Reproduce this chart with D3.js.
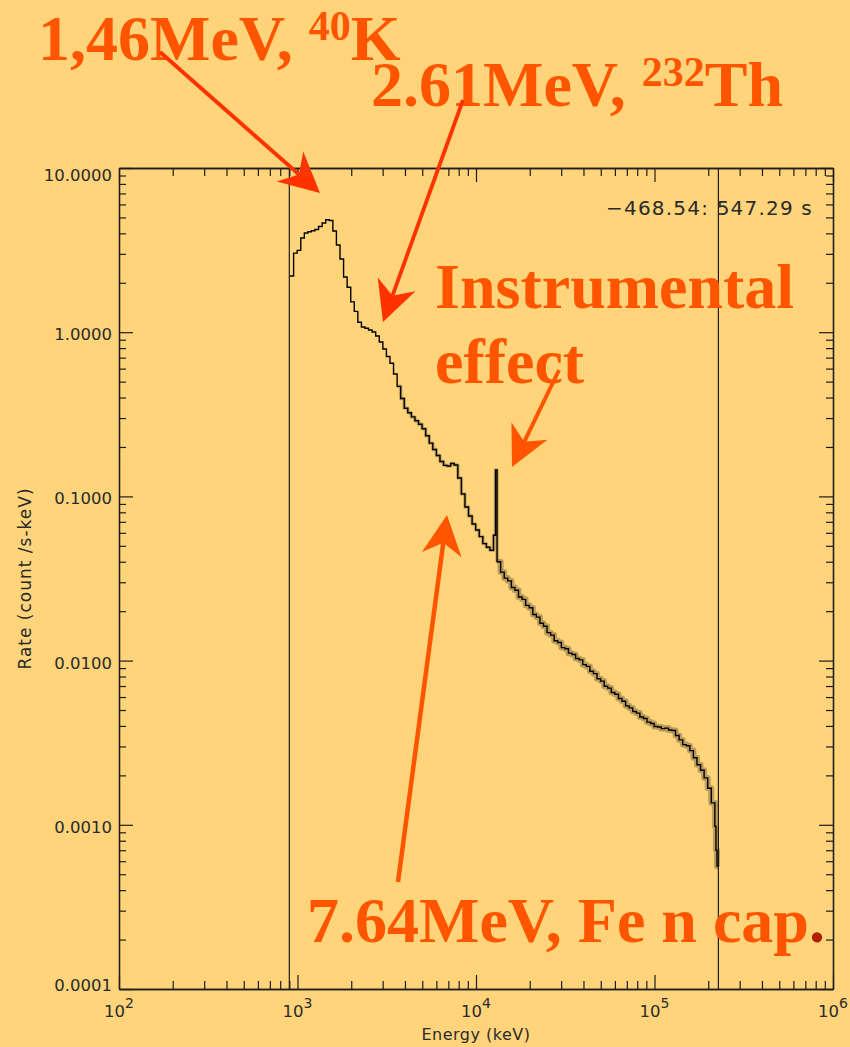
<!DOCTYPE html>
<html>
<head>
<meta charset="utf-8">
<script src="https://cdn.jsdelivr.net/npm/d3@7"></script>
<style>
  html, body { margin: 0; padding: 0; background: #FFD47A; }
  svg { display: block; }
</style>
</head>
<body>
<svg id="chart" width="850" height="1047"></svg>
<script>
// Background spectrum: histogram bin edges (keV) and count rate per bin (count /s-keV)
const binEdgesKeV = [
  908, 951, 996, 1043, 1092, 1143, 1197, 1253, 1312, 1374,
  1439, 1507, 1578, 1652, 1730, 1812, 1897, 1987, 2080, 2178,
  2281, 2388, 2501, 2619, 2742, 2871, 3007, 3148, 3297, 3452,
  3615, 3785, 3964, 4150, 4346, 4551, 4765, 4990, 5225, 5471,
  5729, 5999, 6282, 6578, 6888, 7213, 7552, 7908, 8281, 8671,
  9080, 9510, 9956, 10430, 10920, 11430, 11970, 12530, 12860, 13120,
  13740, 14390, 15070, 15780, 16520, 17300, 18120, 18970, 19870, 20800,
  21780, 22810, 23880, 25010, 26190, 27420, 28710, 30070, 31480, 32970,
  34520, 36150, 37850, 39640, 41500, 43460, 45510, 47650, 49900, 52250,
  54710, 57290, 59990, 62820, 65780, 68880, 72130, 75520, 79080, 82810,
  86710, 90800, 95100, 99560, 104300, 109200, 114300, 119700, 125300, 131200,
  137400, 143900, 150700, 157800, 165200, 173000, 181200, 189700, 198700, 208000,
  217800, 221000, 223900, 228000
];
const rateCounts = [
  2.20, 3.03, 3.15, 3.75, 4.02, 4.09, 4.15, 4.22, 4.40, 4.62,
  4.84, 4.79, 4.13, 3.40, 2.79, 2.17, 1.88, 1.53, 1.34, 1.15,
  1.076, 1.056, 1.031, 1.003, 0.948, 0.872, 0.790, 0.711, 0.647, 0.556,
  0.468, 0.395, 0.344, 0.323, 0.305, 0.289, 0.275, 0.258, 0.234, 0.211,
  0.193, 0.1775, 0.163, 0.1546, 0.1532, 0.1586, 0.1553, 0.1294, 0.1034, 0.0862,
  0.0760, 0.0679, 0.0624, 0.0569, 0.0516, 0.0490, 0.0470, 0.058, 0.145, 0.040,
  0.0346, 0.0318, 0.0306, 0.0279, 0.0268, 0.0244, 0.0236, 0.0217, 0.0210, 0.0191,
  0.0184, 0.0169, 0.0162, 0.0148, 0.0143, 0.0132, 0.0129, 0.0120, 0.0118, 0.01110,
  0.01090, 0.01030, 0.01010, 0.00945, 0.00922, 0.00862, 0.00833, 0.00776, 0.00750, 0.00698,
  0.00680, 0.00640, 0.00624, 0.00588, 0.00565, 0.00530, 0.00515, 0.00490, 0.00479, 0.00453,
  0.00444, 0.00422, 0.00414, 0.00397, 0.00394, 0.00385, 0.00388, 0.00378, 0.00375, 0.00350,
  0.00329, 0.00308, 0.00303, 0.00283, 0.00256, 0.00232, 0.00215, 0.00193, 0.00167, 0.00136,
  0.00098, 0.00070, 0.00056
];

// Axis ticks and labels
const xMajorTicks = [1e2, 1e3, 1e4, 1e5, 1e6];
const xTickExponents = ["2", "3", "4", "5", "6"];
const yMajorTicks = [10, 1, 0.1, 0.01, 0.001, 0.0001];
const yTickLabels = ["10.0000", "1.0000", "0.1000", "0.0100", "0.0010", "0.0001"];

// Energy selection interval (keV) and accumulation time label
const intervalMarkersKeV = [900, 228000];
const timeRangeLabel = "\u2212468.54: 547.29 s";

const svg = d3.select("#chart");
const W = 850, H = 1047;
const plot = { left: 119, right: 833, top: 168, bottom: 989 };

svg.append("rect").attr("width", W).attr("height", H).attr("fill", "#FFD47A");

const x = d3.scaleLog().domain([1e2, 1e6]).range([plot.left, plot.right]);
const y = d3.scaleLog().domain([1e-4, 10]).range([plot.bottom, plot.top]);

function minorTicks(lo, hi) {
  const out = [];
  for (let e = lo; e < hi; e++) {
    for (let m = 2; m <= 9; m++) out.push(m * Math.pow(10, e));
  }
  return out;
}
const xMinor = minorTicks(2, 6);
const yMinor = minorTicks(-4, 1);

const ink = "#1c1c1c";
function styleAxis(g) {
  g.select(".domain").attr("stroke", ink).attr("stroke-width", 1.3);
  g.selectAll(".tick line").attr("stroke", ink).attr("stroke-width", 1.2);
  g.selectAll(".tick text").remove();
}

// Interval marker lines
svg.append("g").selectAll("line").data(intervalMarkersKeV).join("line")
  .attr("x1", d => x(d)).attr("x2", d => x(d))
  .attr("y1", plot.top).attr("y2", plot.bottom)
  .attr("stroke", ink).attr("stroke-width", 1.2);

// Frame with major and minor ticks on all four sides
const axes = svg.append("g");
[[xMajorTicks, 14], [xMinor, 8]].forEach(([vals, len]) => {
  axes.append("g").attr("transform", `translate(0,${plot.bottom})`)
    .call(d3.axisBottom(x).tickValues(vals).tickSize(-len).tickSizeOuter(0)).call(styleAxis);
  axes.append("g").attr("transform", `translate(0,${plot.top})`)
    .call(d3.axisTop(x).tickValues(vals).tickSize(-len).tickSizeOuter(0)).call(styleAxis);
});
[[yMajorTicks, 14], [yMinor, 7]].forEach(([vals, len]) => {
  axes.append("g").attr("transform", `translate(${plot.left},0)`)
    .call(d3.axisLeft(y).tickValues(vals).tickSize(-len).tickSizeOuter(0)).call(styleAxis);
  axes.append("g").attr("transform", `translate(${plot.right},0)`)
    .call(d3.axisRight(y).tickValues(vals).tickSize(-len).tickSizeOuter(0)).call(styleAxis);
});

// Tick labels
const labelFont = "'DejaVu Sans', 'Liberation Sans', sans-serif";
svg.append("g").selectAll("text").data(yMajorTicks).join("text")
  .attr("x", plot.left - 7)
  .attr("y", d => Math.min(Math.max(y(d) + 8, plot.top + 13), plot.bottom + 2))
  .attr("text-anchor", "end")
  .attr("font-family", labelFont).attr("font-size", 16.5).attr("fill", "#2a2a2a")
  .text((d, i) => yTickLabels[i]);

const xl = svg.append("g").selectAll("text").data(xMajorTicks).join("text")
  .attr("x", d => x(d)).attr("y", plot.bottom + 28)
  .attr("text-anchor", "middle")
  .attr("font-family", labelFont).attr("font-size", 16.5).attr("fill", "#2a2a2a");
xl.append("tspan").text("10");
xl.append("tspan").attr("dy", -9).attr("font-size", 14).text((d, i) => xTickExponents[i]);

// Axis titles
svg.append("text")
  .attr("x", (plot.left + plot.right) / 2).attr("y", 1040)
  .attr("text-anchor", "middle")
  .attr("font-family", labelFont).attr("font-size", 16).attr("letter-spacing", 0.5)
  .attr("fill", "#2a2a2a")
  .text("Energy (keV)");
svg.append("text")
  .attr("transform", `translate(31,${(plot.top + plot.bottom) / 2}) rotate(-90)`)
  .attr("text-anchor", "middle")
  .attr("font-family", labelFont).attr("font-size", 17).attr("letter-spacing", 1)
  .attr("fill", "#2a2a2a")
  .text("Rate (count /s-keV)");

svg.append("text")
  .attr("x", 813).attr("y", 215)
  .attr("text-anchor", "end")
  .attr("font-family", labelFont).attr("font-size", 20).attr("letter-spacing", 1.2)
  .attr("fill", "#2a2a2a")
  .text(timeRangeLabel);

// Spectrum (step histogram)
svg.append("clipPath").attr("id", "plotClip").append("rect")
  .attr("x", plot.left).attr("y", plot.top)
  .attr("width", plot.right - plot.left).attr("height", plot.bottom - plot.top);

const pts = rateCounts.map((r, i) => [binEdgesKeV[i], r]);
pts.push([binEdgesKeV[binEdgesKeV.length - 1], rateCounts[rateCounts.length - 1]]);
const stepLine = d3.line().x(d => x(d[0])).y(d => y(d[1])).curve(d3.curveStepAfter);

const spec = svg.append("g").attr("clip-path", "url(#plotClip)");
// statistical scatter band around the higher-energy bins
const midBand = pts.filter(d => d[0] >= 3600 && d[0] <= 13120);
const highBand = pts.filter(d => d[0] >= 13120);
spec.append("path").attr("d", stepLine(midBand))
  .attr("fill", "none").attr("stroke", "#000").attr("stroke-opacity", 0.22)
  .attr("stroke-width", 3.5).attr("stroke-linejoin", "round");
spec.append("path").attr("d", stepLine(highBand))
  .attr("fill", "none").attr("stroke", "#000").attr("stroke-opacity", 0.26)
  .attr("stroke-width", 6).attr("stroke-linejoin", "round");
spec.append("path").attr("d", stepLine(pts))
  .attr("fill", "none").attr("stroke", "#000").attr("stroke-width", 1.4);

// Line annotations
const noteFont = "'Liberation Serif', 'Times New Roman', serif";
const orange = "#FF5500", red = "#FF3300";
const notes = svg.append("g")
  .attr("font-family", noteFont).attr("font-weight", "bold")
  .attr("font-size", 64).attr("fill", orange);

const k40 = notes.append("text").attr("x", 38).attr("y", 60);
k40.append("tspan").text("1,46MeV, ");
k40.append("tspan").attr("font-size", 42).attr("dy", -20).text("40");
k40.append("tspan").attr("dy", 20).text("K");

const th232 = notes.append("text").attr("x", 371).attr("y", 106);
th232.append("tspan").text("2.61MeV, ");
th232.append("tspan").attr("font-size", 42).attr("dy", -20).text("232");
th232.append("tspan").attr("dy", 20).text("Th");

notes.append("text").attr("x", 435).attr("y", 308).text("Instrumental");
notes.append("text").attr("x", 435).attr("y", 383).text("effect");

const fe = notes.append("text").attr("x", 307).attr("y", 942);
fe.append("tspan").text("7.64MeV, Fe n cap");
fe.append("tspan").attr("fill", "#B02000").text(".");

// Arrows pointing at the spectral features
const arrows = svg.append("g");
function arrow(x0, y0, x1, y1, color, lw) {
  const dx = x1 - x0, dy = y1 - y0, L = Math.hypot(dx, dy);
  const ux = dx / L, uy = dy / L, px = -uy, py = ux;
  const headLen = 40, half = 20, notch = 28;
  const bx = x1 - ux * headLen, by = y1 - uy * headLen;
  const nx = x1 - ux * notch, ny = y1 - uy * notch;
  arrows.append("line")
    .attr("x1", x0).attr("y1", y0).attr("x2", nx).attr("y2", ny)
    .attr("stroke", color).attr("stroke-width", lw);
  arrows.append("path")
    .attr("d", `M${x1},${y1}L${bx + px * half},${by + py * half}L${nx},${ny}L${bx - px * half},${by - py * half}Z`)
    .attr("fill", color);
}
arrow(160, 52, x(1337), y(7.04), red, 3.8);
arrow(463, 100, x(3013), y(1.154), red, 3.8);
arrow(559, 370, x(15910), y(0.151), orange, 4);
arrow(398, 882, x(6879), y(0.077), orange, 4.5);
</script>
</body>
</html>
